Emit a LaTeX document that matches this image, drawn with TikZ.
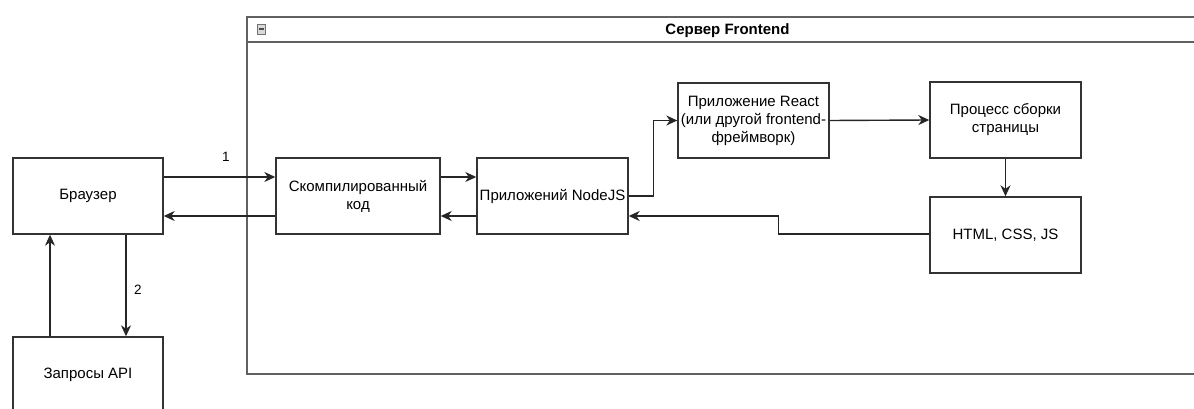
\documentclass[tikz,border=0pt]{standalone}
\usepackage{fontspec}
\setmainfont{Liberation Sans}
\usetikzlibrary{arrows.meta,calc}

\tikzset{
  box/.style={draw=black!80, line width=1.4pt, fill=white, inner sep=2pt,
    minimum width=#1, minimum height=76pt, align=center,
    font=\fontsize{15}{18}\selectfont},
  box/.default=151pt,
  arr/.style={draw=black!85, line width=1.4pt,
    -{Stealth[length=11pt,width=10pt,inset=3.5pt]}},
  lbl/.style={font=\fontsize{13.5}{15}\selectfont, inner sep=0pt},
  frame/.style={draw=black!62, line width=1.8pt}
}

\begin{document}
\begin{tikzpicture}[x=1pt,y=-1pt]
  \useasboundingbox (0,0) rectangle (1194,409);
  \clip (0,0) rectangle (1194,409);

  % server container with its title bar
  \draw[frame] (247,17) rectangle (1207,374);
  \draw[frame] (247,42) -- (1207,42);
  \draw[draw=black!55, fill=black!15, line width=0.8pt] (257,24) rectangle (265,34);
  \draw[black!70, line width=1.2pt] (258.5,29) -- (263.5,29);
  \node[font=\bfseries\fontsize{15}{17}\selectfont] (title) at (727.5,31) {Сервер Frontend};

  % client side
  \node[box=150pt] (browser) at (88,196) {Браузер};
  \node[box=150pt] (api) at (88,375) {Запросы API};

  % server side
  \node[box=164pt] (comp) at (358,196) {Скомпилированный\\код};
  \node[box] (nodejs) at (552.5,196) {Приложений NodeJS};
  \node[box, minimum height=75pt] (react) at (753.5,120.5) {Приложение React\\(или другой frontend-\\фреймворк)};
  \node[box] (proc) at (1005.5,120) {Процесс сборки\\страницы};
  \node[box] (html) at (1005.5,235) {HTML, CSS, JS};

  % request / response between browser and compiled code
  \draw[arr] ($(browser.east)+(0,-19)$) -- ($(comp.west)+(0,-19)$);
  \draw[arr] ($(comp.west)+(0,20)$) -- ($(browser.east)+(0,20)$);
  \node[lbl] (n1) at (226,157) {1};

  % browser <-> API requests
  \draw[arr] ($(browser.south)+(38,0)$) -- ($(api.north)+(38,0)$);
  \draw[arr] ($(api.north)+(-38,0)$) -- ($(browser.south)+(-38,0)$);
  \node[lbl] (n2) at (138,290) {2};

  % compiled code <-> NodeJS
  \draw[arr] ($(comp.east)+(0,-19)$) -- ($(nodejs.west)+(0,-19)$);
  \draw[arr] ($(nodejs.west)+(0,20)$) -- ($(comp.east)+(0,20)$);

  % rendering pipeline
  \draw[arr] (nodejs.east) -- ++(25,0) |- (react.west);
  \draw[arr] (react.east) -- (proc.west);
  \draw[arr] (proc.south) -- (html.north);
  \draw[arr] ($(html.west)+(0,-1)$) -- ++(-151,0) |- ($(nodejs.east)+(0,20)$);
\end{tikzpicture}
\end{document}
